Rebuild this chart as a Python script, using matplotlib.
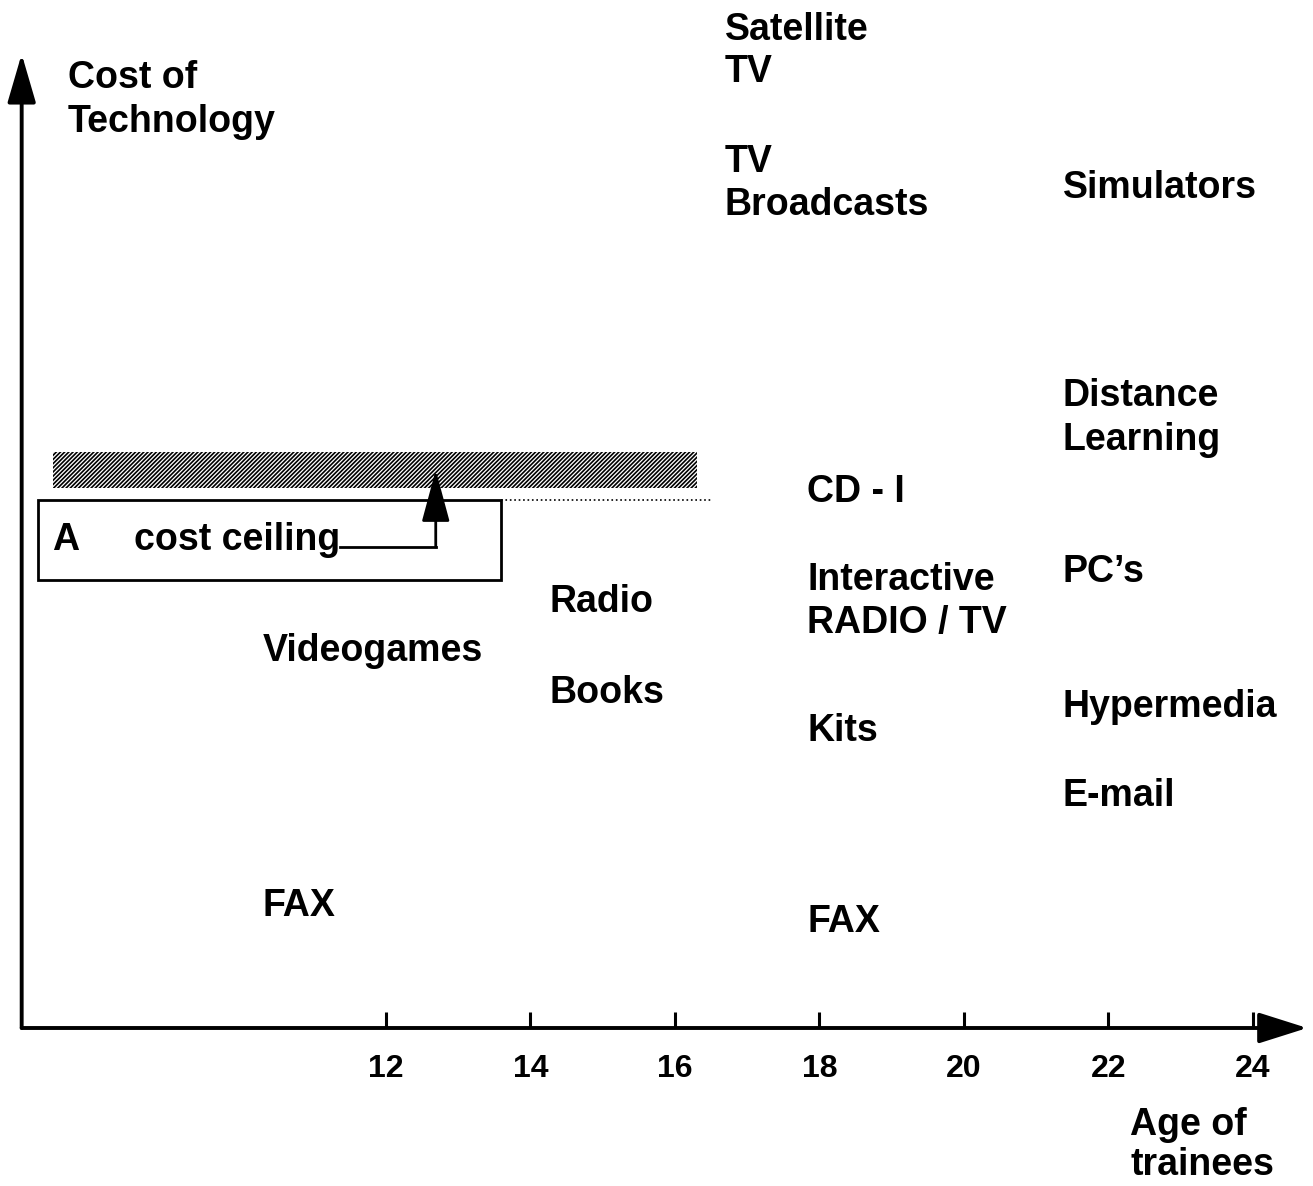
import matplotlib.pyplot as plt
from matplotlib.patches import Rectangle

plt.rcParams['font.family'] = ['Liberation Sans', 'DejaVu Sans']
plt.rcParams['hatch.linewidth'] = 1.2

# --- data: technologies placed by trainee age (x) and cost (y) ---
tech_names = ['Satellite\nTV', 'TV\nBroadcasts', 'Simulators', 'Distance\nLearning',
              'CD - I', 'Interactive\nRADIO / TV', 'PC\u2019s', 'Radio', 'Videogames',
              'Books', 'Kits', 'Hypermedia', 'E-mail', 'FAX', 'FAX']
tech_age = [16.69, 16.69, 21.37, 21.37, 17.83, 17.83, 21.37, 14.26, 10.29,
            14.26, 17.84, 21.37, 21.37, 10.29, 17.84]
tech_cost = [98.0, 84.75, 84.3, 61.3, 53.9, 43.0, 45.9, 42.9, 38.0,
             33.8, 30.0, 32.4, 23.5, 12.5, 10.9]

age_ticks = [12, 14, 16, 18, 20, 22, 24]
ceiling_cost = 55.8

fig = plt.figure(figsize=(13.13, 11.86), dpi=100)
ax = fig.add_axes([0, 0, 1, 1])
ax.set_xlim(6.66, 24.83)
ax.set_ylim(-15.8, 102.8)
ax.axis('off')

fs = 27
dy = -0.3  # small nudge so text centres sit on the scanned baselines

# axes with arrows
ax.annotate('', xy=(6.96, 97.4), xytext=(6.96, 0),
            arrowprops=dict(arrowstyle='-|>,head_length=1.2,head_width=0.35',
                            mutation_scale=25, color='black', lw=2.8,
                            shrinkA=0, shrinkB=0))
ax.annotate('', xy=(24.75, 0), xytext=(6.96, 0),
            arrowprops=dict(arrowstyle='-|>,head_length=1.2,head_width=0.38',
                            mutation_scale=25, color='black', lw=2.8,
                            shrinkA=0, shrinkB=0))

# ticks and tick labels
ax.vlines(age_ticks, 0, 1.6, color='black', lw=2.2)
for a in age_ticks:
    ax.text(a, -4.1, str(a), ha='center', va='center', fontsize=23, fontweight='bold')

ax.text(7.60, 93.1 + dy, 'Cost of\nTechnology', ha='left', va='center',
        fontsize=fs, fontweight='bold', linespacing=1.25)
ax.text(22.30, -11.7, 'Age of\ntrainees', ha='left', va='center',
        fontsize=fs, fontweight='bold', linespacing=1.15)

for name, a, c in zip(tech_names, tech_age, tech_cost):
    ax.text(a, c + dy, name, ha='left', va='center', fontsize=fs,
            fontweight='bold', linespacing=1.25)

# hatched cost band
ax.add_patch(Rectangle((7.39, 54.0), 16.30 - 7.39, 3.6, facecolor='white',
                       edgecolor='black', hatch='////////', lw=0))
ax.plot([13.6, 16.51], [52.8, 52.8], color='black', lw=1.2, ls=':')

# box A: cost ceiling
ax.add_patch(Rectangle((7.18, 44.8), 13.6 - 7.18, 8.0, facecolor='none',
                       edgecolor='black', lw=2))
ax.text(7.38, 49.1 + dy, 'A', ha='left', va='center', fontsize=fs, fontweight='bold')
ax.text(8.51, 49.1 + dy, 'cost ceiling', ha='left', va='center', fontsize=fs,
        fontweight='bold')
ax.plot([11.36, 12.69], [48.1, 48.1], color='black', lw=2)
ax.annotate('', xy=(12.69, ceiling_cost), xytext=(12.69, 48.1),
            arrowprops=dict(arrowstyle='-|>,head_length=1.3,head_width=0.35',
                            mutation_scale=25, color='black', lw=2,
                            shrinkA=0, shrinkB=0))

fig.savefig('out.png', dpi=100)
